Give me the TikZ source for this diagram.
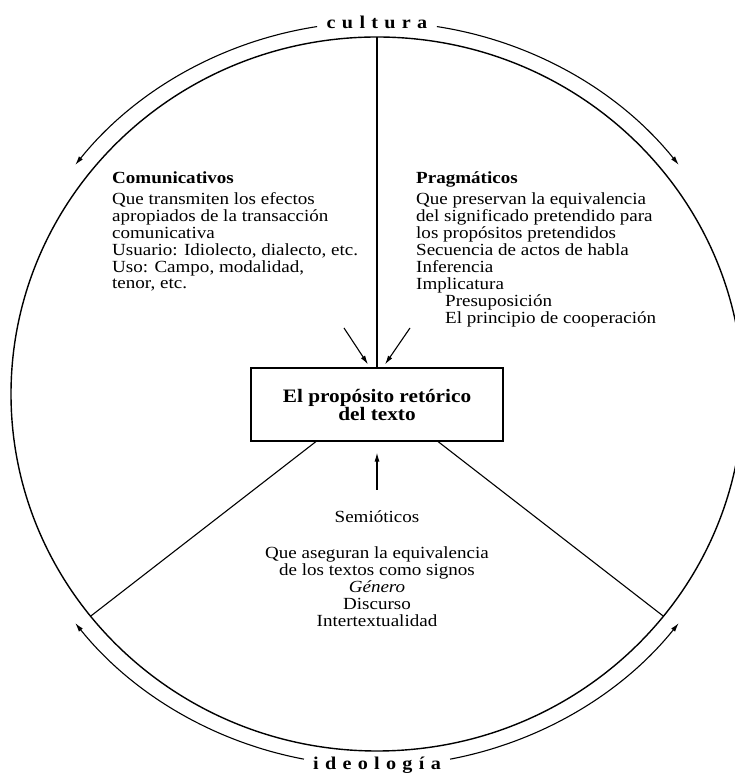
\documentclass[tikz,border=0pt]{standalone}
\usepackage{fontspec}
\setmainfont{Liberation Serif}[FakeStretch=1.12]
\usetikzlibrary{arrows.meta,positioning}

\tikzset{
  ring/.style={line width=1.4pt},
  plain/.style={line width=1.1pt},
  flow/.style={line width=1.1pt,-{Latex[length=9pt,width=5pt]}},
  body/.style={anchor=base west,inner sep=0pt,text height=11pt,text depth=3pt,
    font=\fontsize{17pt}{17pt}\selectfont},
  head/.style={body,font=\fontsize{17pt}{17pt}\selectfont\bfseries},
  centred/.style={body,anchor=base},
  purpose/.style={draw,line width=1.1pt,minimum width=252pt,minimum height=73pt,
    align=center,font=\fontsize{19pt}{18pt}\selectfont\bfseries},
  ringlabel/.style={inner sep=0pt,
    font=\fontsize{18pt}{18pt}\selectfont\bfseries\addfontfeatures{LetterSpace=35}}
}

\begin{document}
\begin{tikzpicture}[x=1pt,y=1pt]

\useasboundingbox (0,0) rectangle (734,778);

\coordinate (centre) at (377,384);
\coordinate (ringtop) at (377,741);
\coordinate (ringleft) at (90.6,161.8);
\coordinate (ringright) at (663.4,161.8);

\draw[ring] (centre) ellipse[x radius=366pt, y radius=357pt];

\foreach \from/\to in {99/142, 81/38, 259/218, 281/322}
    \draw[flow] ([shift={(\from:383pt and 372pt)}]centre)
        arc[start angle=\from, end angle=\to, x radius=383pt, y radius=372pt];

\node[ringlabel] (culture) at (377,756) {cultura};
\node[ringlabel] (ideology) at (377,13) {ideología};

\node[purpose] (purpose) at (377,373.5) {El propósito retórico\\del texto};

\draw[plain] (ringtop) -- (purpose.north);
\draw[plain] ([xshift=-61pt]purpose.south) -- (ringleft);
\draw[plain] ([xshift=61pt]purpose.south) -- (ringright);

\coordinate (comfrom) at (344,450);
\coordinate (pragfrom) at (410,450);
\coordinate (semfrom) at (377,288);
\draw[flow] (comfrom) -- ([xshift=-9pt,yshift=3pt]purpose.north);
\draw[flow] (pragfrom) -- ([xshift=8pt,yshift=3pt]purpose.north);
\draw[flow] (semfrom) -- ([yshift=-11pt]purpose.south);

\node[head] (comhead) at (112,594) {Comunicativos};
\foreach \txt [count=\i] in {
  Que transmiten los efectos,
  apropiados de la transacción,
  comunicativa,
  {Usuario: Idiolecto, dialecto, etc.},
  {Uso: Campo, modalidad,},
  {tenor, etc.}}
    \node[body] (com\i) at (112,{573-16.8*(\i-1)}) {\txt};

\node[head] (praghead) at (416,594) {Pragmáticos};
\foreach \x/\txt [count=\i] in {
  416/Que preservan la equivalencia,
  416/del significado pretendido para,
  416/los propósitos pretendidos,
  416/Secuencia de actos de habla,
  416/Inferencia,
  416/Implicatura,
  445/Presuposición,
  445/El principio de cooperación}
    \node[body] (prag\i) at (\x,{573-16.9*(\i-1)}) {\txt};

\node[centred] (semhead) at (377,255) {Semióticos};
\foreach \txt [count=\i] in {
  Que aseguran la equivalencia,
  de los textos como signos,
  \textit{Género},
  Discurso,
  Intertextualidad}
    \node[centred] (sem\i) at (377,{219-17*(\i-1)}) {\txt};

\end{tikzpicture}
\end{document}
